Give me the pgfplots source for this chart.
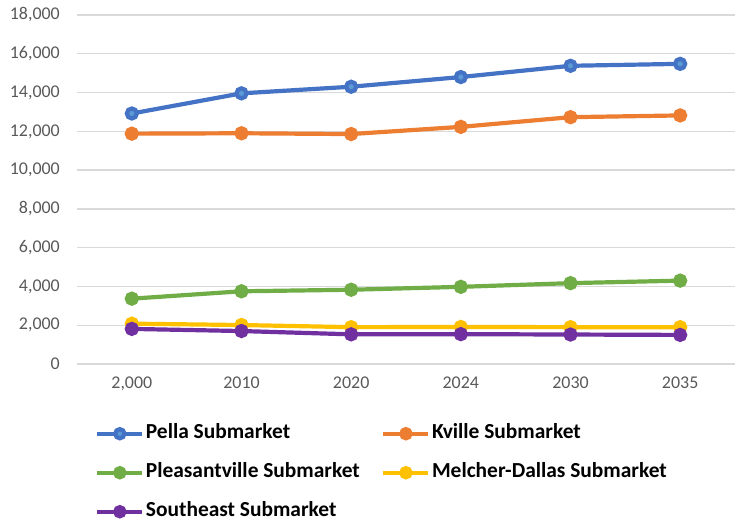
\documentclass[border=0pt]{standalone}
\usepackage{pgfplots}
\pgfplotsset{compat=1.18}
\usepackage{fontspec}
\setmainfont{Carlito}
\definecolor{cBlue}{HTML}{4472C4}
\definecolor{cBlueL}{HTML}{5B9BD5}
\definecolor{cOrange}{HTML}{ED7D31}
\definecolor{cGreen}{HTML}{70AD47}
\definecolor{cYellow}{HTML}{FFC000}
\definecolor{cPurple}{HTML}{7030A0}
\definecolor{cGrid}{HTML}{D9D9D9}
\definecolor{cTick}{HTML}{595959}
\begin{document}
\begin{tikzpicture}
\path[use as bounding box] (-77bp,-159bp) rectangle (658bp,364bp);
\begin{axis}[
  anchor=south west, at={(0,0)},
  scale only axis, width=658bp, height=349bp,
  xmin=-0.5, xmax=5.5, ymin=0, ymax=18000,
  xtick={0,1,2,3,4,5},
  xticklabels={{2,000},2010,2020,2024,2030,2035},
  ytick={0,2000,...,18000},
  /pgf/number format/assume math mode=true,
  /pgf/number format/1000 sep={,},
  scaled y ticks=false,
  axis line style={draw=none},
  major tick length=0pt,
  ymajorgrids, grid style={cGrid, line width=1.3bp},
  tick label style={font=\fontsize{18}{20}\selectfont, text=cTick},
  yticklabel style={anchor=east, inner sep=0pt, xshift=-17bp},
  xticklabel style={anchor=north, inner sep=0pt, yshift=-13bp},
  clip=false,
  every axis plot/.append style={line width=4.2bp, mark=*, mark size=5bp, mark options={line width=0.8bp}},
  legend columns=2,
  legend cell align=left,
  legend style={draw=none, fill=none, inner sep=0pt,
    at={(axis description cs:0.0274,-0.1734)}, anchor=north west,
    font=\fontsize{21.5}{23}\selectfont\bfseries,
    nodes={inner xsep=1.5bp, inner ysep=0pt, text height=14bp, text depth=4bp},
    row sep=21bp,
    /tikz/every even column/.append style={column sep=20bp}},
  legend image code/.code={\draw[mark repeat=2,mark phase=2,mark size=4.6bp,#1] plot coordinates {(0bp,0bp) (22.5bp,0bp) (45bp,0bp)};},
]
\addplot[cBlue, mark options={fill=cBlueL, draw=cBlue}] coordinates {(0,12920) (1,13960) (2,14300) (3,14800) (4,15380) (5,15480)};
\addlegendentry{Pella Submarket}
\addplot[cOrange, mark options={fill=cOrange}] coordinates {(0,11880) (1,11900) (2,11860) (3,12230) (4,12730) (5,12820)};
\addlegendentry{Kville Submarket}
\addplot[cGreen, mark options={fill=cGreen}] coordinates {(0,3370) (1,3750) (2,3830) (3,3980) (4,4170) (5,4300)};
\addlegendentry{Pleasantville Submarket}
\addplot[cYellow, mark options={fill=cYellow}] coordinates {(0,2080) (1,2010) (2,1900) (3,1910) (4,1900) (5,1900)};
\addlegendentry{Melcher-Dallas Submarket}
\addplot[cPurple, mark options={fill=cPurple}] coordinates {(0,1810) (1,1700) (2,1530) (3,1540) (4,1520) (5,1500)};
\addlegendentry{Southeast Submarket}
\end{axis}
\end{tikzpicture}
\end{document}
